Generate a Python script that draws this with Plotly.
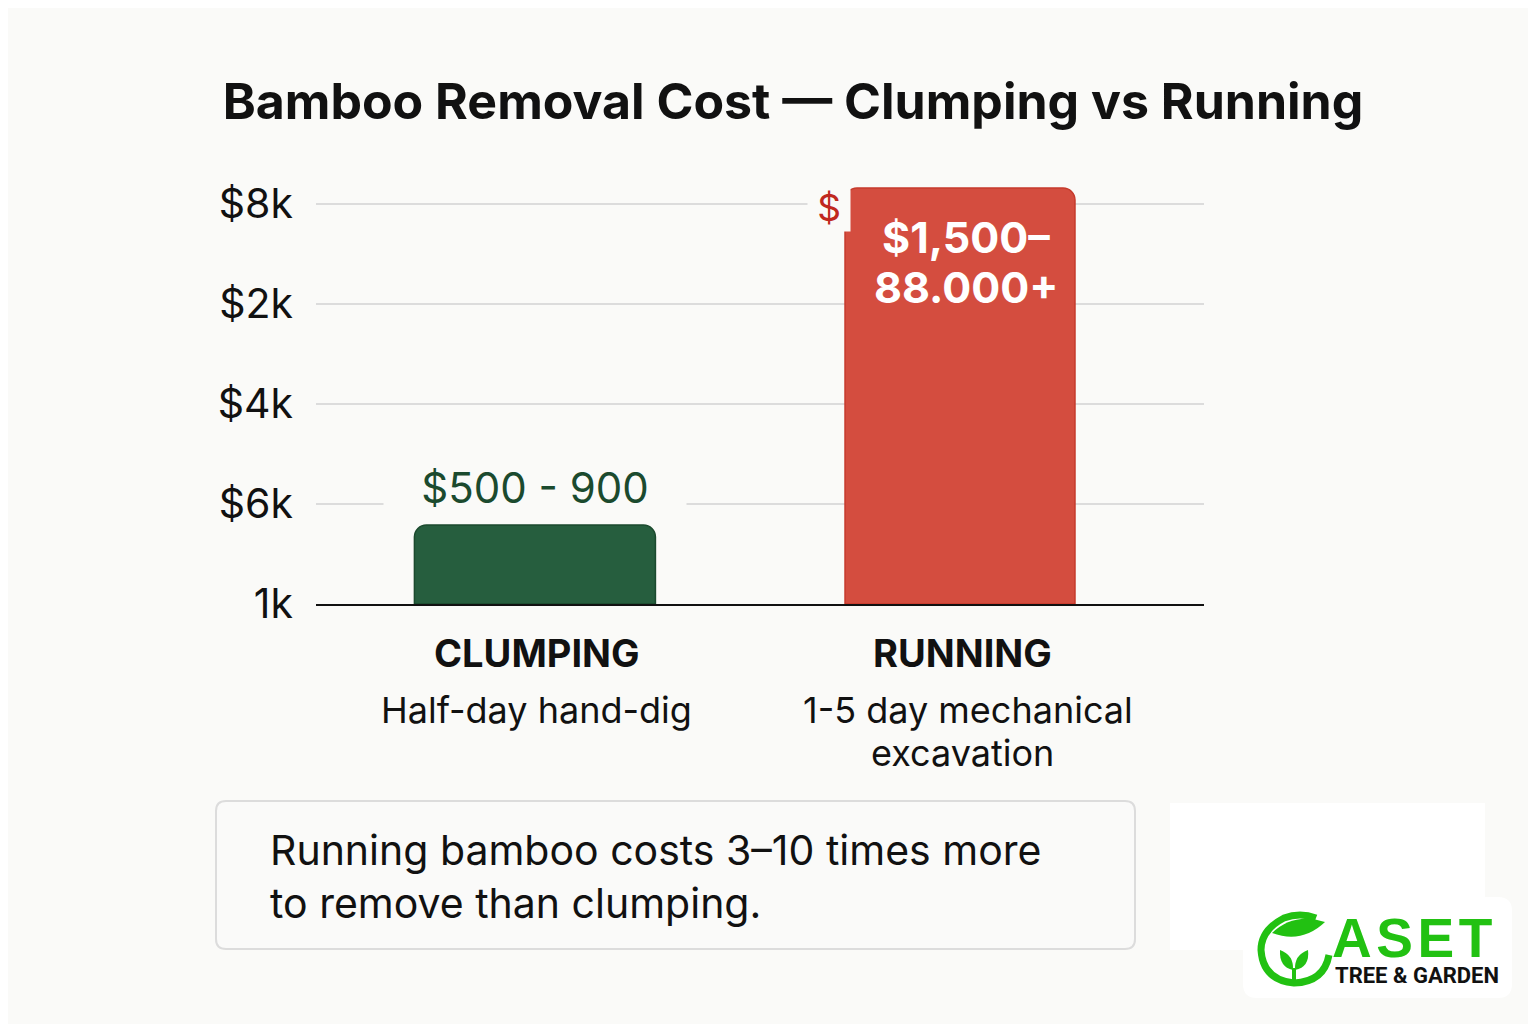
import plotly.graph_objects as go

# ---- data ----
categories = ["CLUMPING", "RUNNING"]
subtitles = [["Half-day hand-dig"], ["1-5 day mechanical", "excavation"]]
bar_heights = [0.79, 4.16]          # read in axis units (gridline spacing = 1)
green_label = "$500 - 900"
red_label_lines = ["<b>$1,500–</b>", "<b>88.000+</b>"]
bar_widths = [0.567, 0.541]
tick_positions = [0, 1, 2, 3, 4]
tick_labels = ["1k", "$6k", "$4k", "$2k", "$8k"]

BG = "#fafaf8"
OFF = 8                                # page body margin
W, H = 1536 - OFF, 1024 - OFF
L, R, T, B = 316 - OFF, 332, 174 - OFF, 420
PW, PH = W - L - R, H - T - B

def px(x):   # screenshot pixel -> paper x
    return (x - OFF - L) / PW

def py(y):   # screenshot pixel -> paper y
    return (H - B - (y - OFF)) / PH

fig = go.Figure()
fig.add_trace(go.Bar(
    x=categories, y=bar_heights, width=bar_widths,
    marker=dict(color=["#265e3e", "#d44d3f"],
                line=dict(color=["#1b4a2e", "#c63a2c"], width=1.5)),
    hoverinfo="skip", showlegend=False,
))

ann = []
# green label above clumping bar
ann.append(dict(x=categories[0], y=bar_heights[0], xref="x", yref="y",
                text=green_label, showarrow=False, yanchor="bottom", yshift=10,
                width=300, bgcolor=BG,
                font=dict(family="Inter", size=42, color="#1b4a2e")))
# white label inside running bar (two lines)
for i, line in enumerate(red_label_lines):
    ann.append(dict(x=categories[1], y=bar_heights[1], xref="x", yref="y",
                    text=line, showarrow=False, yanchor="middle",
                    yshift=-49 - 50 * i, xshift=6,
                    font=dict(family="Inter", size=43, color="white")))
# stray red $
ann.append(dict(x=categories[1], y=bar_heights[1], xref="x", yref="y",
                text="$", showarrow=False, yanchor="top", xshift=-131, yshift=5,
                width=40, bgcolor=BG,
                font=dict(family="Inter", size=37, color="#c0281e")))
# category names and subtitles
for c, subs in zip(categories, subtitles):
    ann.append(dict(x=c, y=py(653), xref="x", yref="paper", text="<b>" + c + "</b>",
                    showarrow=False, yanchor="middle", xshift=2,
                    font=dict(family="Inter", size=38, color="#111111")))
    for i, s in enumerate(subs):
        ann.append(dict(x=c, y=py(710 + 43 * i), xref="x", yref="paper", text=s,
                        showarrow=False, yanchor="middle", xshift=(8 if i == 0 and len(subs) > 1 else 2),
                        font=dict(family="Inter", size=36, color="#111111")))
# callout text
ann.append(dict(x=px(268), y=py(876), xref="paper", yref="paper", xanchor="left",
                yanchor="middle", align="left", showarrow=False,
                text="Running bamboo costs 3–10 times more<br>to remove than clumping.",
                font=dict(family="Inter", size=41, color="#111111")))
# logo text
ann.append(dict(x=px(1331), y=py(938), xref="paper", yref="paper", xanchor="left",
                yanchor="middle", showarrow=False, text="<b>A\u200aS\u200aE\u200aT</b>",
                height=44, valign="middle", borderpad=0,
                font=dict(family="Liberation Sans", size=55, color="#22c112")))
ann.append(dict(x=px(1334), y=py(975), xref="paper", yref="paper", xanchor="left",
                yanchor="middle", showarrow=False, text="<b>TREE & GARDEN</b>",
                height=18, valign="middle", borderpad=0,
                font=dict(family="Roboto", size=22, color="#111111")))

def rrect(x0, y0, x1, y1, r):
    X0, X1 = px(x0), px(x1)
    Y0, Y1 = py(y0), py(y1)
    rx, ry = r / PW, r / PH
    return (f"M {X0+rx},{Y0} L {X1-rx},{Y0} Q {X1},{Y0} {X1},{Y0-ry} "
            f"L {X1},{Y1+ry} Q {X1},{Y1} {X1-rx},{Y1} L {X0+rx},{Y1} "
            f"Q {X0},{Y1} {X0},{Y1+ry} L {X0},{Y0-ry} Q {X0},{Y0} {X0+rx},{Y0} Z")

def pth(points):
    return " ".join(f"{cmd} " + " ".join(f"{px(a)},{py(b)}" for a, b in pts) for cmd, pts in points)

shapes = [
    dict(type="path", xref="paper", yref="paper", path=rrect(216, 801, 1135, 949, 10),
         line=dict(color="#dcdcdc", width=2), fillcolor="#fafaf9", layer="below"),
    dict(type="rect", xref="paper", yref="paper", x0=px(1170), x1=px(1485), y0=py(803), y1=py(950),
         line=dict(width=0), fillcolor="white", layer="below"),
    dict(type="path", xref="paper", yref="paper", path=rrect(1243, 897, 1512, 998, 14),
         line=dict(width=0), fillcolor="white", layer="below"),
    # logo ring (open at upper right)
    dict(type="path", xref="paper", yref="paper",
         path=pth([("M", [(1316, 918)]),
                   ("Q", [(1300, 912), (1284, 918)]),
                   ("Q", [(1261, 930), (1261, 950)]),
                   ("Q", [(1263, 980), (1294, 983)]),
                   ("Q", [(1324, 982), (1329, 955)])]),
         line=dict(color="#22c112", width=7)),
    # big leaf
    dict(type="path", xref="paper", yref="paper",
         path=pth([("M", [(1272, 933)]), ("Q", [(1294, 912), (1325, 922)]),
                   ("Q", [(1302, 944), (1272, 933)]), ("Z", [])]),
         line=dict(width=0), fillcolor="#22c112"),
    # seedling leaves
    dict(type="path", xref="paper", yref="paper",
         path=pth([("M", [(1293, 970)]), ("Q", [(1279, 967), (1280, 950)]),
                   ("Q", [(1294, 955), (1293, 970)]), ("Z", [])]),
         line=dict(width=0), fillcolor="#22c112"),
    dict(type="path", xref="paper", yref="paper",
         path=pth([("M", [(1295, 970)]), ("Q", [(1310, 967), (1308, 950)]),
                   ("Q", [(1294, 955), (1295, 970)]), ("Z", [])]),
         line=dict(width=0), fillcolor="#22c112"),
    dict(type="path", xref="paper", yref="paper",
         path=pth([("M", [(1294, 968)]), ("L", [(1294, 984)])]),
         line=dict(color="#22c112", width=4)),
]

fig.update_layout(
    width=W, height=H,
    margin=dict(l=L, r=R, t=T, b=B, pad=0),
    paper_bgcolor=BG, plot_bgcolor=BG,
    barcornerradius=12,
    title=dict(text="<b>Bamboo Removal Cost — Clumping vs Running</b>",
               x=(793 - OFF) / W, xref="container", xanchor="center",
               y=1 - (101 - OFF) / H, yref="container", yanchor="middle",
               font=dict(family="Inter", size=50, color="#111111")),
    xaxis=dict(type="category", range=[-0.515, 1.574], showticklabels=False,
               showline=True, linecolor="#111111", linewidth=2, showgrid=False,
               ticks="", fixedrange=True),
    yaxis=dict(range=[0, 4.3], tickvals=tick_positions, ticktext=tick_labels,
               showgrid=True, gridcolor="#dcdcdc", gridwidth=2, zeroline=False,
               showline=False, ticks="", ticklabelstandoff=22,
               tickfont=dict(family="Inter", size=41, color="#111111")),
    annotations=ann, shapes=shapes,
)

fig.write_html("out.html")
